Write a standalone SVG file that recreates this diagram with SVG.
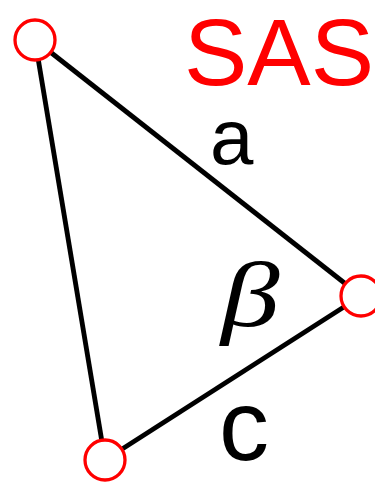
<svg xmlns="http://www.w3.org/2000/svg" width="375" height="483" viewBox="0 0 375 483">
<style>
.edge{stroke:#000;stroke-width:4.8;fill:none}
.node{fill:#fff;stroke:#f00;stroke-width:3.3}
.lbl{font-family:"Liberation Sans",Arial,sans-serif;fill:#000}
</style>
<rect width="375" height="483" fill="#fff"/>
<g id="connectors">
<line class="edge" x1="35" y1="40" x2="361" y2="296"/>
<line class="edge" x1="35" y1="40" x2="105" y2="460"/>
<line class="edge" x1="105" y1="460" x2="361" y2="296"/>
</g>
<g id="node-A"><circle class="node" cx="35" cy="40" r="20"/></g>
<g id="node-B"><circle class="node" cx="361" cy="296" r="20"/></g>
<g id="node-C"><circle class="node" cx="105" cy="460" r="20"/></g>
<text x="184" y="85" font-family="Liberation Sans, Arial, sans-serif" font-size="95" fill="#f00">SAS</text>
<text class="lbl" x="210" y="164" font-size="78">a</text>
<text transform="translate(221,326) scale(1.25,1)" x="0" y="0" font-family="Liberation Serif, Times New Roman, serif" font-style="italic" font-size="94" fill="#000">β</text>
<text class="lbl" x="219" y="460" font-size="100">c</text>
</svg>
